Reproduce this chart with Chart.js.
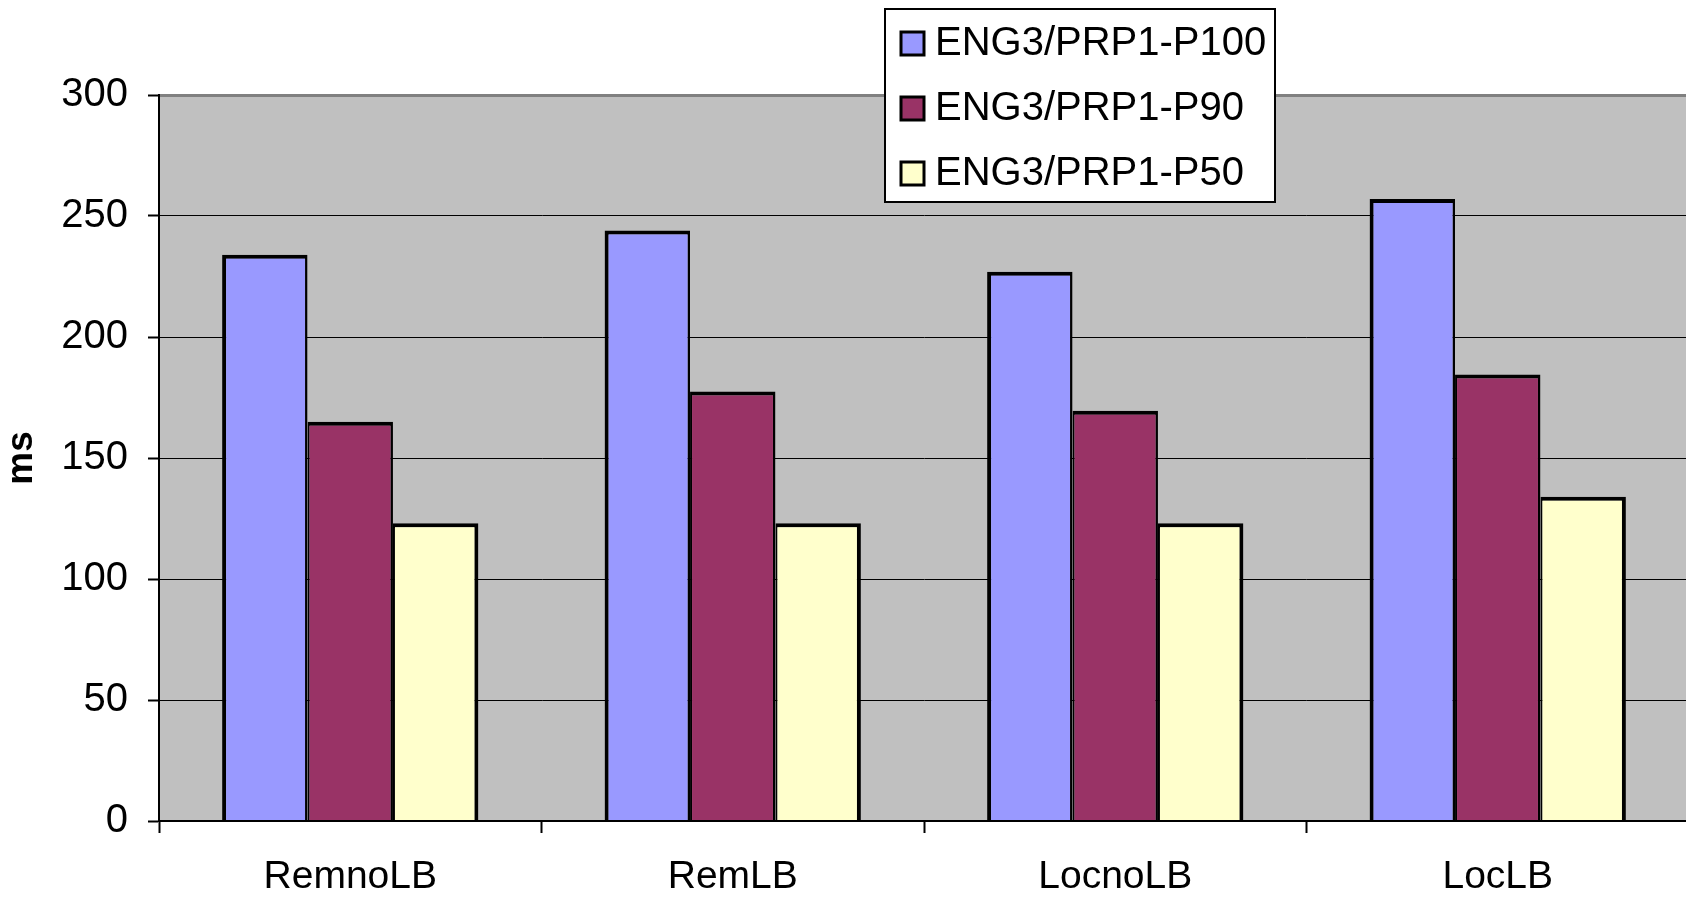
<!DOCTYPE html>
<html>
<head>
<meta charset="utf-8">
<title>ms</title>
<script src="https://cdn.jsdelivr.net/npm/chart.js@4/dist/chart.umd.min.js"></script>
<style>
  html, body { margin: 0; padding: 0; background: #ffffff; overflow: hidden; }
  canvas { display: block; }
</style>
</head>
<body>
<canvas id="chart" width="1689" height="899"></canvas>
<script>
// Categories and series values (ms)
const categories = ['RemnoLB', 'RemLB', 'LocnoLB', 'LocLB'];
const seriesNames = ['ENG3/PRP1-P100', 'ENG3/PRP1-P90', 'ENG3/PRP1-P50'];
const p100 = [234, 244, 227, 257];
const p90 = [165, 177.5, 169.5, 184.5];
const p50 = [123, 123, 123, 134];
const yTicks = [0, 50, 100, 150, 200, 250, 300];

const FONT = '"Liberation Sans", Arial, Helvetica, sans-serif';

// Grey plot-area fill behind the bars
const plotBackground = {
  id: 'plotBackground',
  beforeDraw(chart) {
    const { ctx, chartArea: a } = chart;
    ctx.save();
    ctx.fillStyle = '#C0C0C0';
    ctx.fillRect(a.left, a.top, a.right - a.left, a.bottom - a.top);
    ctx.restore();
  }
};

// Boxed legend drawn over the top of the plot area
const boxedLegend = {
  id: 'boxedLegend',
  afterDraw(chart) {
    const { ctx } = chart;
    const x = 885, y = 9, w = 390, h = 193;
    ctx.save();
    ctx.fillStyle = '#ffffff';
    ctx.fillRect(x, y, w, h);
    ctx.strokeStyle = '#000000';
    ctx.lineWidth = 2;
    ctx.strokeRect(x, y, w, h);
    ctx.font = '40px ' + FONT;
    ctx.textBaseline = 'alphabetic';
    ctx.textAlign = 'left';
    chart.data.datasets.forEach((ds, i) => {
      const rowY = 32 + i * 65;
      ctx.fillStyle = ds.backgroundColor;
      ctx.fillRect(901, rowY, 23, 23);
      ctx.lineWidth = 3;
      ctx.strokeStyle = '#000000';
      ctx.strokeRect(901, rowY, 23, 23);
      ctx.fillStyle = '#000000';
      ctx.fillText(ds.label, 935, rowY + 22.5);
    });
    ctx.restore();
  }
};

const colors = ['#9999FF', '#993366', '#FFFFCC'];
const values = [p100, p90, p50];
const sideWidths = [
  { top: 4, left: 4, right: 2.5, bottom: 0 },
  { top: 4, left: 2, right: 2.5, bottom: 0 },
  { top: 4, left: 2, right: 4, bottom: 0 }
];

new Chart(document.getElementById('chart'), {
  type: 'bar',
  data: {
    labels: categories,
    datasets: seriesNames.map((name, i) => ({
      label: name,
      data: values[i],
      backgroundColor: colors[i],
      borderColor: '#000000',
      borderWidth: sideWidths[i],
      borderSkipped: 'start',
      inflateAmount: 0,
      categoryPercentage: 0.67,
      barPercentage: 1.0
    }))
  },
  options: {
    responsive: false,
    animation: false,
    devicePixelRatio: 1,
    layout: { padding: { top: 95, right: 0, bottom: 0, left: 0 } },
    plugins: {
      legend: { display: false },
      tooltip: { enabled: false },
      title: { display: false }
    },
    scales: {
      x: {
        afterFit(scale) { scale.height = 78; },
        grid: {
          offset: true,
          drawOnChartArea: false,
          drawTicks: true,
          tickLength: 12,
          tickColor: '#000000',
          tickWidth: 2
        },
        border: { display: true, color: '#000000', width: 2, z: 1 },
        ticks: {
          color: '#000000',
          font: { family: FONT, size: 39 },
          padding: 21,
          maxRotation: 0,
          autoSkip: false
        }
      },
      y: {
        min: 0,
        max: 300,
        afterFit(scale) { scale.width = 159; },
        afterBuildTicks(scale) { scale.ticks = yTicks.map(v => ({ value: v })); },
        grid: {
          color: ctx => (ctx.tick && ctx.tick.value === 300 ? '#808080' : '#000000'),
          lineWidth: ctx => (ctx.tick && ctx.tick.value === 300 ? 3 : 1),
          drawTicks: true,
          tickLength: 11,
          tickColor: '#000000',
          tickWidth: 2
        },
        border: { display: true, color: '#000000', width: 2, z: 1 },
        ticks: {
          color: '#000000',
          font: { family: FONT, size: 40 },
          padding: 20
        },
        title: {
          display: true,
          text: 'ms',
          color: '#000000',
          font: { family: FONT, size: 37, weight: 'bold' },
          padding: { top: 0, bottom: 0 }
        }
      }
    }
  },
  plugins: [plotBackground, boxedLegend]
});
</script>
</body>
</html>
